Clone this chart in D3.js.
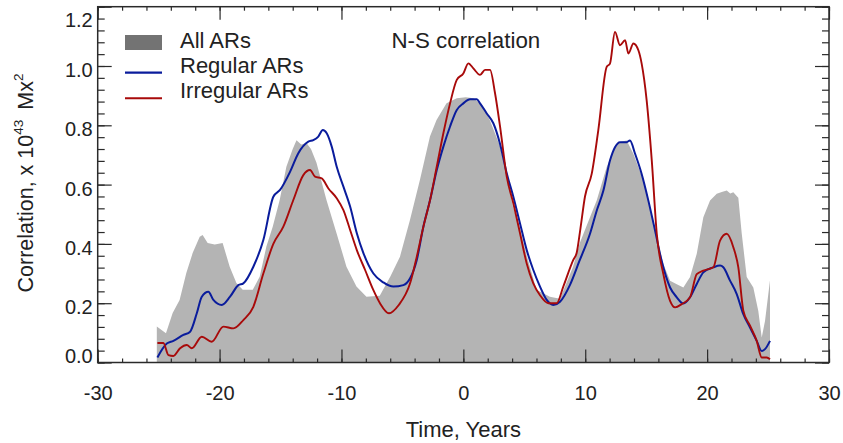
<!DOCTYPE html>
<html>
<head>
<meta charset="utf-8">
<script src="https://cdn.jsdelivr.net/npm/d3@7"></script>
<style>
  body { margin: 0; background: #fff; }
  text { font-family: "Liberation Sans", Arial, Helvetica, sans-serif; fill: #222; }
</style>
</head>
<body>
<svg id="chart" width="843" height="443"></svg>
<script>
// All ARs (gray area)
let allT = [-25.15, -24.4, -23.85, -23.28, -22.73, -22.21, -21.63, -21.39, -20.98, -20.4, -19.75, -19.17,
  -18.62, -18.1, -17.28, -16.71, -16.16, -15.64, -15.07, -14.52, -14.0, -13.69, -13.3, -12.87, -12.5, -12.05,
  -11.23, -10.41, -9.59, -8.77, -7.95, -6.86, -6.0, -5.2, -4.38, -3.56, -2.74, -2.2, -1.38, -0.54, 0.2, 0.82,
  1.5, 2.17, 3.0, 3.56, 4.07, 4.65, 5.2, 6.0, 7.1, 7.93, 9.0, 9.57, 10.39, 10.94, 11.76, 12.58, 13.0, 13.4,
  13.95, 14.77, 15.32, 15.87, 16.41, 16.96, 17.51, 18.05, 18.6, 19.15, 19.69, 20.24, 20.79, 21.2, 21.61,
  21.9, 22.15, 22.56, 22.84, 23.25, 23.79, 24.2, 24.48, 24.75, 25.16];
let allV = [0.121, 0.099, 0.167, 0.211, 0.302, 0.369, 0.424, 0.43, 0.403, 0.398, 0.403, 0.323,
  0.268, 0.245, 0.245, 0.289, 0.391, 0.458, 0.548, 0.66, 0.72, 0.75, 0.735, 0.74, 0.72, 0.674,
  0.548, 0.437, 0.323, 0.256, 0.222, 0.225, 0.289, 0.357, 0.481, 0.616, 0.762, 0.818, 0.874, 0.891, 0.895, 0.891,
  0.87, 0.818, 0.73, 0.63, 0.525, 0.45, 0.36, 0.245, 0.222, 0.215, 0.323, 0.405, 0.49, 0.546, 0.659, 0.738, 0.745, 0.749,
  0.704, 0.614, 0.524, 0.422, 0.332, 0.276, 0.264, 0.253, 0.288, 0.367, 0.49, 0.546, 0.569, 0.575, 0.58,
  0.57, 0.574, 0.556, 0.435, 0.288, 0.253, 0.174, 0.084, 0.14, 0.277];

// Regular ARs (blue)
let regT = [-25.1, -24.33, -23.79, -22.97, -22.42, -21.87, -21.46, -20.92, -20.51, -19.82, -19.14, -18.46,
  -18.05, -17.23, -16.41, -15.59, -15.04, -14.22, -13.54, -12.72, -12.31, -11.9, -11.53, -11.21, -10.8,
  -10.39, -9.84, -9.29, -8.74, -8.2, -7.38, -6.56, -5.74, -4.92, -4.37, -3.82, -3.28, -2.73, -2.18, -1.64,
  -1.09, -0.54, 0, 0.55, 1.1, 1.37, 1.92, 2.46, 3.0, 3.56, 4.1, 4.65, 5.2, 5.74, 6.29, 6.84, 7.38, 7.93,
  8.75, 9.5, 10.39, 10.94, 11.49, 12.03, 12.44, 12.85, 13.4, 13.67, 14.09, 14.63, 15.18, 15.73, 16.27,
  16.96, 17.51, 18.05, 18.6, 19.15, 19.69, 20.51, 21.06, 21.33, 21.88, 22.43, 22.97, 23.52, 24.07, 24.48,
  24.75, 25.16];
let regV = [0.017, 0.064, 0.073, 0.093, 0.104, 0.166, 0.222, 0.239, 0.211, 0.194, 0.222, 0.261,
  0.267, 0.323, 0.413, 0.559, 0.582, 0.643, 0.706, 0.745, 0.75, 0.762, 0.784, 0.773, 0.728,
  0.66, 0.593, 0.526, 0.436, 0.369, 0.3, 0.27, 0.256, 0.261, 0.284, 0.346, 0.458, 0.548, 0.649, 0.728,
  0.796, 0.852, 0.874, 0.888, 0.888, 0.874, 0.84, 0.807, 0.739, 0.638, 0.559, 0.469, 0.379, 0.312, 0.256, 0.211, 0.194, 0.205,
  0.262, 0.34, 0.434, 0.512, 0.58, 0.681, 0.726, 0.743, 0.743, 0.749, 0.704, 0.636, 0.546, 0.445, 0.343,
  0.253, 0.22, 0.199, 0.22, 0.265, 0.304, 0.321, 0.327, 0.321, 0.276, 0.231, 0.163, 0.118, 0.073, 0.039,
  0.045, 0.073];

// Irregular ARs (red)
let irrT = [-25.1, -24.61, -24.2, -23.79, -23.24, -22.69, -22.28, -21.46, -20.64, -19.69, -18.87, -18.05,
  -17.23, -16.41, -15.59, -14.77, -13.95, -13.13, -12.58, -12.17, -11.62, -11.07, -10.39, -9.84, -9.29,
  -8.74, -8.06, -7.38, -6.84, -6.1, -5.3, -4.37, -3.82, -3.28, -2.73, -2.18, -1.64, -1.09, -0.54, 0, 0.41,
  0.82, 1.37, 1.78, 2.19, 2.6, 3.01, 3.56, 4.1, 4.65, 5.2, 5.74, 6.29, 6.97, 7.66, 8.2, 9.02, 9.3, 9.6,
  9.98, 10.53, 11.07, 11.76, 12.03, 12.44, 12.85, 13.27, 13.54, 13.95, 14.36, 14.63, 15.04, 15.46, 15.87,
  16.41, 16.96, 17.37, 17.92, 18.6, 19.15, 19.69, 20.51, 21.06, 21.61, 22.15, 22.56, 22.97, 23.52, 24.07,
  24.48, 24.89, 25.16];
let irrV = [0.066, 0.066, 0.025, 0.022, 0.048, 0.059, 0.048, 0.087, 0.07, 0.121, 0.115, 0.143,
  0.188, 0.3, 0.4, 0.458, 0.548, 0.632, 0.649, 0.627, 0.621, 0.587, 0.554, 0.514, 0.447,
  0.379, 0.312, 0.244, 0.2, 0.166, 0.194, 0.267, 0.357, 0.458, 0.548, 0.661, 0.773, 0.874, 0.953, 0.975, 1.009,
  0.992, 0.97, 0.987, 0.987, 0.908, 0.796, 0.627, 0.537, 0.436, 0.334, 0.267, 0.227, 0.2, 0.2, 0.256, 0.346, 0.37, 0.45,
  0.56, 0.636, 0.783, 0.997, 1.008, 1.115, 1.07, 1.087, 1.042, 1.076, 1.053, 1.008, 0.884, 0.681, 0.434,
  0.298, 0.208, 0.186, 0.197, 0.22, 0.298, 0.31, 0.321, 0.411, 0.434, 0.389, 0.321, 0.175, 0.124, 0.073,
  0.017, 0.017, 0.011];

let xMajor = [-30, -20, -10, 0, 10, 20, 30];
let yMajor = [0.0, 0.2, 0.4, 0.6, 0.8, 1.0, 1.2];
let legendNames = ['All ARs', 'Regular ARs', 'Irregular ARs'];

let pLeft = 97.7, pRight = 829, pTop = 6.7, pBottom = 362.5;
let gray = '#b4b4b4', blue = '#0a1c9c', red = '#a80a0a', ink = '#2a2a2a';

let svg = d3.select('#chart');

let x = d3.scaleLinear().domain([-30, 30]).range([pLeft, pRight]);
let y = d3.scaleLinear().domain([0, 1.2]).range([pBottom, pTop]);

let xMinor = d3.range(-30, 30.01, 2);
let yMinor = d3.range(0, 1.201, 0.04);

let toPts = (ts, vs) => ts.map((t, i) => [t, vs[i]]);

let plot = svg.append('g');

// gray area
plot.append('path')
  .datum(toPts(allT, allV))
  .attr('fill', gray)
  .attr('d', d3.area()
    .x(d => x(d[0]))
    .y0(pBottom)
    .y1(d => y(d[1])));

let line = d3.line()
  .x(d => x(d[0]))
  .y(d => y(d[1]))
  .curve(d3.curveMonotoneX);

plot.append('path')
  .datum(toPts(regT, regV))
  .attr('fill', 'none')
  .attr('stroke', blue)
  .attr('stroke-width', 2)
  .attr('stroke-linejoin', 'round')
  .attr('d', line);

plot.append('path')
  .datum(toPts(irrT, irrV))
  .attr('fill', 'none')
  .attr('stroke', red)
  .attr('stroke-width', 1.9)
  .attr('stroke-linejoin', 'round')
  .attr('d', line);

// axes: ticks inward on all four sides
function styleAxis(g) {
  g.select('.domain').remove();
  g.selectAll('line').attr('stroke', ink).attr('stroke-width', 1.2);
  g.selectAll('text').attr('font-size', 20).attr('fill', ink)
    .attr('font-family', '"Liberation Sans", Arial, Helvetica, sans-serif');
}

svg.append('g')
  .attr('transform', 'translate(0,' + pBottom + ')')
  .call(d3.axisBottom(x).tickValues(xMinor).tickSize(-4).tickFormat(''))
  .call(styleAxis);
svg.append('g')
  .attr('transform', 'translate(0,' + pBottom + ')')
  .call(d3.axisBottom(x).tickValues(xMajor).tickSize(-13).tickPadding(23).tickFormat(d => String(d)))
  .call(styleAxis);

svg.append('g')
  .attr('transform', 'translate(0,' + pTop + ')')
  .call(d3.axisTop(x).tickValues(xMinor).tickSize(-4).tickFormat(''))
  .call(styleAxis);
svg.append('g')
  .attr('transform', 'translate(0,' + pTop + ')')
  .call(d3.axisTop(x).tickValues(xMajor).tickSize(-13).tickFormat(''))
  .call(styleAxis);

svg.append('g')
  .attr('transform', 'translate(' + pLeft + ',0)')
  .call(d3.axisLeft(y).tickValues(yMinor).tickSize(-7).tickFormat(''))
  .call(styleAxis);
svg.append('g')
  .attr('transform', 'translate(' + pLeft + ',0)')
  .call(d3.axisLeft(y).tickValues(yMajor).tickSize(-14).tickPadding(5).tickFormat(d3.format('.1f')))
  .call(styleAxis)
  .selectAll('text')
  .attr('dy', d => d === 0 ? '0em' : (d === 1.2 ? '1.0em' : '0.53em'));

svg.append('g')
  .attr('transform', 'translate(' + pRight + ',0)')
  .call(d3.axisRight(y).tickValues(yMinor).tickSize(-7).tickFormat(''))
  .call(styleAxis);
svg.append('g')
  .attr('transform', 'translate(' + pRight + ',0)')
  .call(d3.axisRight(y).tickValues(yMajor).tickSize(-14).tickFormat(''))
  .call(styleAxis);

// frame
svg.append('rect')
  .attr('x', pLeft).attr('y', pTop)
  .attr('width', pRight - pLeft).attr('height', pBottom - pTop)
  .attr('fill', 'none')
  .attr('stroke', ink)
  .attr('stroke-width', 1.5);

// axis titles
svg.append('text')
  .attr('x', x(0))
  .attr('y', 437)
  .attr('text-anchor', 'middle')
  .attr('font-size', 22)
  .text('Time, Years');

let yt = svg.append('text')
  .attr('transform', 'translate(33,' + 183 + ') rotate(-90)')
  .attr('text-anchor', 'middle')
  .attr('font-size', 21.5);
yt.append('tspan').text('Correlation, x 10');
yt.append('tspan').attr('font-size', 13.5).attr('dy', -10).text('43');
yt.append('tspan').attr('dy', 10).attr('dx', 10).text('Mx');
yt.append('tspan').attr('font-size', 13.5).attr('dy', -10).text('2');

svg.append('text')
  .attr('x', 391.5)
  .attr('y', 47.5)
  .attr('font-size', 22.3)
  .text('N-S correlation');

// legend
let lg = svg.append('g');
lg.append('rect')
  .attr('x', 125).attr('y', 35)
  .attr('width', 37).attr('height', 15)
  .attr('fill', '#737373');
lg.append('line')
  .attr('x1', 125).attr('x2', 162)
  .attr('y1', 72.7).attr('y2', 72.7)
  .attr('stroke', blue).attr('stroke-width', 2.2);
lg.append('line')
  .attr('x1', 125).attr('x2', 162)
  .attr('y1', 98.3).attr('y2', 98.3)
  .attr('stroke', red).attr('stroke-width', 2);
lg.selectAll('text.lg')
  .data(legendNames)
  .enter()
  .append('text')
  .attr('class', 'lg')
  .attr('x', 180)
  .attr('y', (d, i) => 47.7 + i * 25.2)
  .attr('font-size', 22)
  .text(d => d);
</script>
</body>
</html>
